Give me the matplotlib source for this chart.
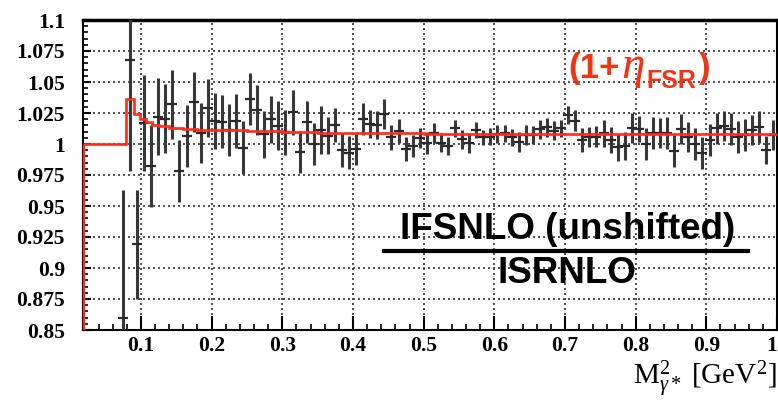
import numpy as np
import matplotlib.pyplot as plt
from matplotlib.lines import Line2D
from matplotlib.ticker import MultipleLocator, FixedLocator, FixedFormatter

plt.rcParams['mathtext.fontset'] = 'custom'
plt.rcParams['mathtext.rm'] = 'Liberation Serif'
plt.rcParams['mathtext.it'] = 'Liberation Serif:italic'
plt.rcParams['mathtext.bf'] = 'Liberation Sans:bold'

# ratio points (bin centres, values, symmetric errors)
x_pts = 0.0745 + 0.01 * np.arange(93)
ratio = [0.86, 1.068, 0.919, 1.017, 0.9825, 1.022, 1.0204, 1.032, 0.978, 1.0065,
         1.034, 1.009, 1.0288, 1.0188, 1.018, 1.0113, 1.0185, 0.997, 1.0363, 1.0274,
         1.008, 1.0199, 1.0148, 1.0094, 1.0255, 0.9938, 1.018, 0.9997, 1.0113, 1.0067,
         1.0153, 0.9952, 0.993, 0.9957, 1.0199, 1.0161, 1.0153, 1.0242, 1.0054, 1.0105,
         0.996, 0.9984, 1.0046, 1.001, 1.0086, 1.001, 0.9984, 1.0126, 1.0038, 1.0005,
         1.0113, 1.0054, 1.0059, 1.008, 1.0086, 1.0054, 1.0019, 1.0073, 1.0073, 1.0118,
         1.0134, 1.0108, 1.0126, 1.0234, 1.0188, 1.0032, 1.0054, 1.0059, 1.0086, 1.0032,
         0.9973, 0.9984, 1.0126, 1.0118, 1.0, 1.0086, 1.0091, 1.0086, 0.9946, 1.0118,
         1.0054, 1.0, 0.993, 1.0032, 1.0126, 1.0145, 1.0118, 1.0059, 1.0073, 1.0113,
         1.014, 0.9952, 1.0073]
ratio_err = [0.103, 0.09, 0.044, 0.039, 0.033, 0.031, 0.028, 0.028, 0.025, 0.025,
             0.024, 0.024, 0.0235, 0.0225, 0.0215, 0.021, 0.0215, 0.0215, 0.021, 0.02,
             0.019, 0.019, 0.02, 0.018, 0.018, 0.017, 0.017, 0.017, 0.0195, 0.015,
             0.014, 0.0135, 0.0135, 0.0125, 0.013, 0.0115, 0.011, 0.012, 0.01, 0.0095,
             0.0095, 0.009, 0.008, 0.009, 0.008, 0.0075, 0.0075, 0.0067, 0.0075, 0.0075,
             0.0067, 0.006, 0.0067, 0.007, 0.007, 0.007, 0.008, 0.008, 0.0075, 0.0075,
             0.0075, 0.0075, 0.007, 0.007, 0.0085, 0.0095, 0.008, 0.0085, 0.011, 0.0105,
             0.011, 0.011, 0.012, 0.0105, 0.0128, 0.0128, 0.012, 0.0128, 0.0128, 0.012,
             0.012, 0.0128, 0.0128, 0.0128, 0.0128, 0.012, 0.0128, 0.0128, 0.0128, 0.012,
             0.0128, 0.011, 0.012]

# 1 + eta_FSR histogram
fsr_edges = [0.018, 0.0795, 0.0897, 0.099, 0.1075, 0.115, 0.125, 0.14, 0.16, 0.18,
             0.2, 0.25, 0.3, 0.35, 0.4, 0.5, 0.6, 0.7, 0.8, 0.9, 1.0]
fsr_vals = [1.0, 1.036, 1.024, 1.0202, 1.0175, 1.0155, 1.0142, 1.013, 1.0122, 1.0116,
            1.011, 1.0102, 1.0095, 1.009, 1.0085, 1.008, 1.0078, 1.0078, 1.0077, 1.0077]

y_ticks = [0.85, 0.875, 0.9, 0.925, 0.95, 0.975, 1.0, 1.025, 1.05, 1.075, 1.1]
y_labels = ['0.85', '0.875', '0.9', '0.925', '0.95', '0.975', '1', '1.025', '1.05', '1.075', '1.1']
x_ticks = [0.1, 0.2, 0.3, 0.4, 0.5, 0.6, 0.7, 0.8, 0.9, 1.0]
x_labels = ['0.1', '0.2', '0.3', '0.4', '0.5', '0.6', '0.7', '0.8', '0.9', '1']

fig = plt.figure(figsize=(7.78, 4.05), dpi=100)
ax = fig.add_axes([83 / 778, 75 / 405, 694 / 778, 310 / 405])

ax.errorbar(x_pts, ratio, yerr=ratio_err, fmt='_', color='#2a2a2a', ecolor='#383838',
            elinewidth=2.2, markersize=7, mew=1.6, capsize=0, zorder=3)
ax.stairs(fsr_vals, fsr_edges, baseline=None, color='#ff2a1a', lw=1.9, zorder=4)
ax.vlines(fsr_edges[0], 0.0, fsr_vals[0], color='#ff2a1a', lw=2.5, zorder=5)

ax.set_xlim(0.018, 1.0)
ax.set_ylim(0.85, 1.1)

ax.yaxis.set_major_locator(FixedLocator(y_ticks))
ax.yaxis.set_major_formatter(FixedFormatter(y_labels))
ax.yaxis.set_minor_locator(MultipleLocator(0.005))
ax.xaxis.set_major_locator(FixedLocator(x_ticks))
ax.xaxis.set_major_formatter(FixedFormatter(x_labels))
ax.xaxis.set_minor_locator(MultipleLocator(0.02))

ax.grid(True, which='major', color='#333333', ls=(0, (1.2, 1.8)), lw=1.2, zorder=1)
ax.tick_params(axis='y', which='major', direction='in', length=6, width=1.5, pad=13)
ax.tick_params(axis='y', which='minor', direction='in', length=3.8, width=1.2)
ax.tick_params(axis='x', which='major', direction='in', length=10, width=1.5, pad=4)
ax.tick_params(axis='x', which='minor', direction='in', length=4.5, width=1.2)
for lab in ax.get_xticklabels() + ax.get_yticklabels():
    lab.set_fontfamily('Liberation Serif')
    lab.set_fontweight('bold')
    lab.set_fontsize(15.5)
ax.get_xticklabels()[-1].set_horizontalalignment('right')
for side in ['left', 'bottom', 'right']:
    ax.spines[side].set_linewidth(1.5)
ax.spines['top'].set_linewidth(2.5)

fig.text(777 / 778, 1 - 385 / 405, r'$\mathrm{M}^{2}_{\gamma *}$ [GeV$^{2}$]',
         ha='right', va='baseline', fontsize=21, family='Liberation Serif')

# red (1+eta_FSR) label built piece by piece
red = '#f03414'
renderer = fig.canvas.get_renderer()
pieces = [('(1+', dict(fontsize=25, fontweight='bold', family='Liberation Sans'), 0),
          (r'$\eta$', dict(fontsize=34), 0),
          ('FSR', dict(fontsize=18, fontweight='bold', family='Liberation Sans'), -10),
          (')', dict(fontsize=25, fontweight='bold', family='Liberation Sans'), 0)]
x0 = 568
base = 405 - 78
for s, kw, dy in pieces:
    t = fig.text(x0 / 778, (base + dy) / 405, s, ha='left', va='baseline', color=red, **kw)
    bb = t.get_window_extent(renderer)
    x0 = bb.x1 + 2

fig.text(568 / 778, 1 - 239 / 405, 'IFSNLO (unshifted)', ha='center', va='baseline',
         fontsize=26.5, fontweight='bold', family='Liberation Sans')
fig.add_artist(Line2D([384 / 778, 748 / 778], [1 - 251 / 405, 1 - 251 / 405],
                      color='k', lw=3, transform=fig.transFigure))
fig.text(567 / 778, 1 - 283 / 405, 'ISRNLO', ha='center', va='baseline',
         fontsize=26.5, fontweight='bold', family='Liberation Sans')

plt.savefig('out.png', dpi=100)
